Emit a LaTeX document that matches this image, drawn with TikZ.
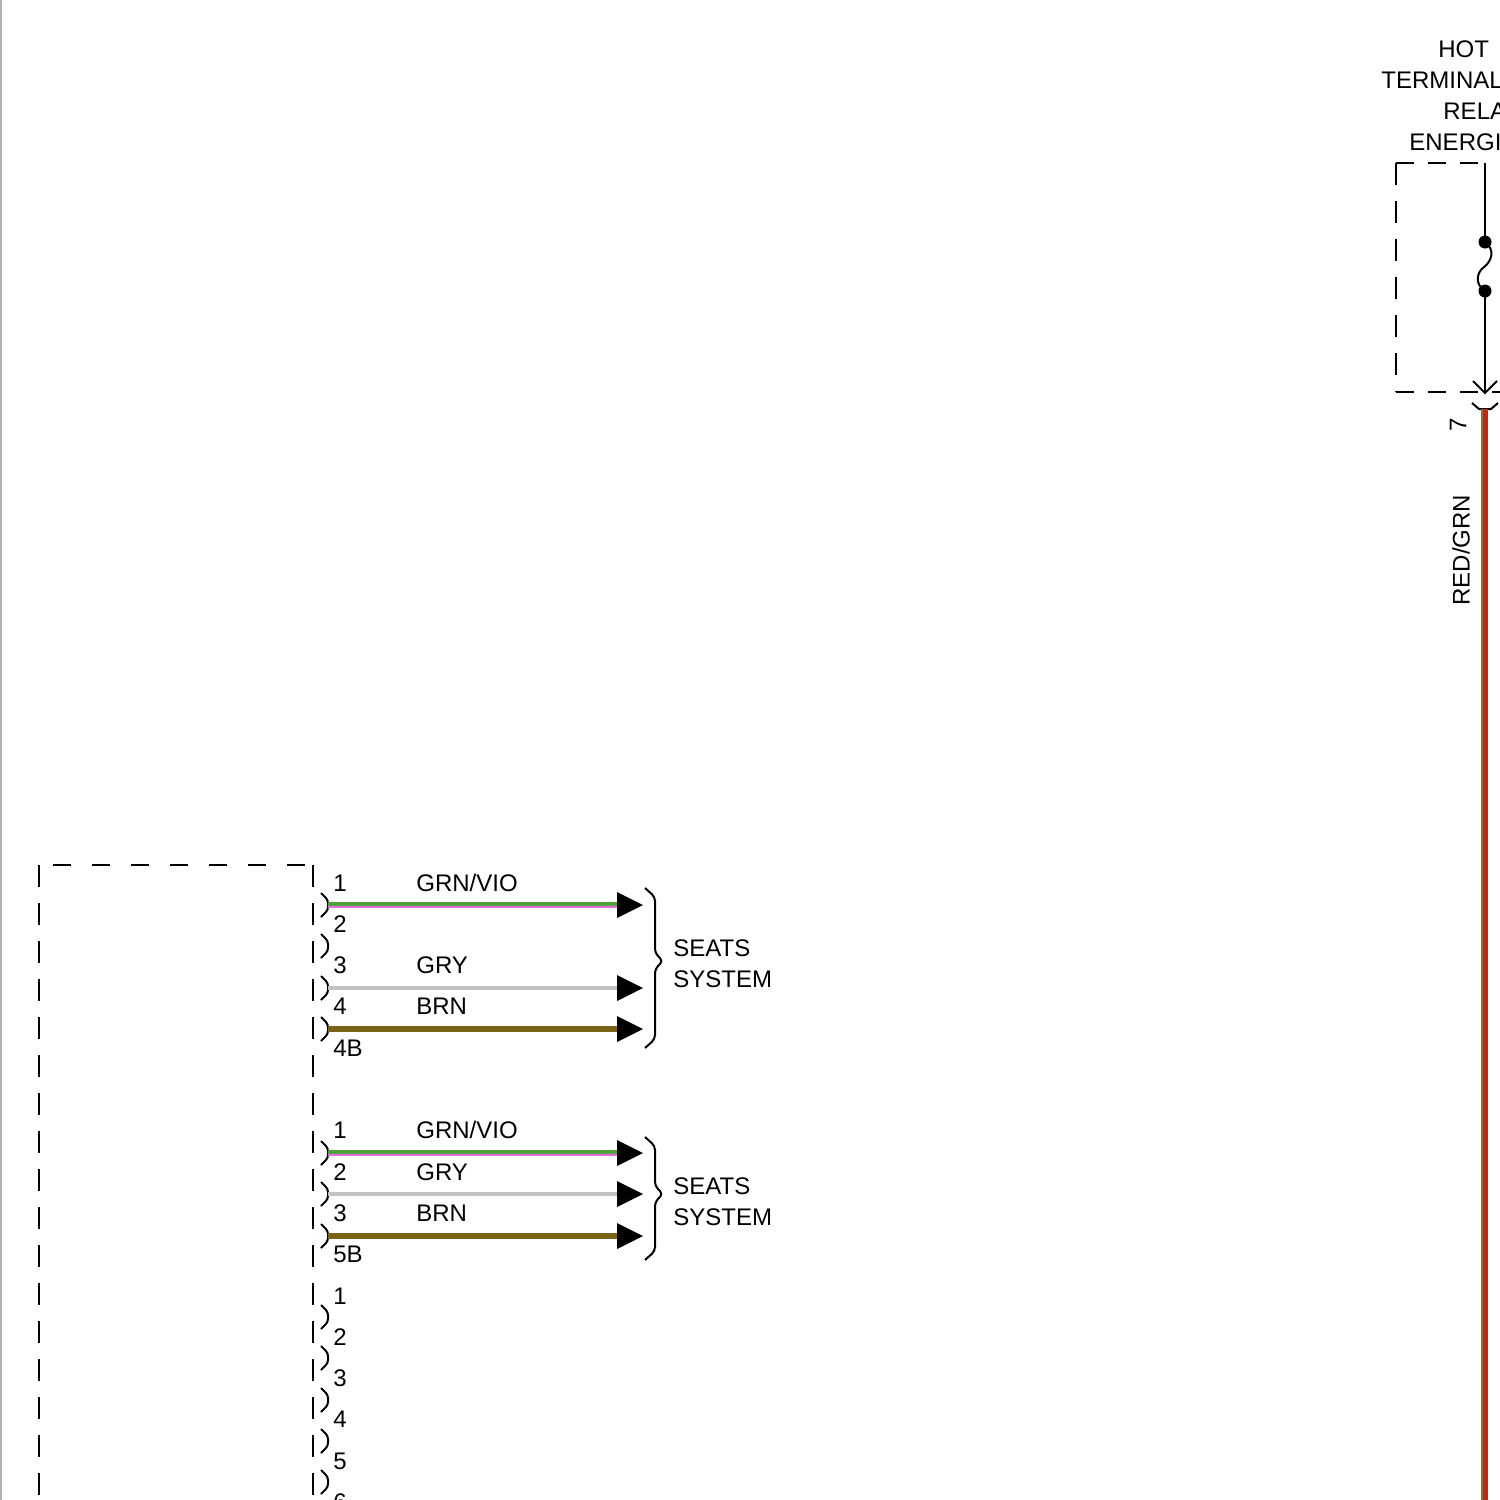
\documentclass[tikz,border=0pt]{standalone}
\usepackage{fontspec}
\setmainfont{Liberation Sans}
\definecolor{wgrn}{RGB}{80,160,60}
\definecolor{wvio}{RGB}{230,110,220}
\definecolor{wgry}{RGB}{195,195,195}
\definecolor{wbrn}{RGB}{120,100,20}
\definecolor{wred}{RGB}{205,35,20}
\definecolor{wredstripe}{RGB}{140,115,40}
\definecolor{edgegray}{RGB}{175,175,175}
\begin{document}
\begin{tikzpicture}[x=0.5pt,y=-0.5pt,
  font=\fontsize{12}{15.5}\selectfont,
  lbl/.style={inner sep=0pt, anchor=base west},
  pinlbl/.style={inner sep=0pt, anchor=base},
  dashv/.style={line width=1.2pt, dash pattern=on 11pt off 8pt},
  dashh/.style={line width=1.2pt, dash pattern=on 9pt off 10.5pt, dash phase=12.5pt},
  dashs/.style={line width=1.2pt, dash pattern=on 9pt off 7pt},
  brk/.style={line width=1pt, rounded corners=1.5pt},
  wireline/.style={line width=1pt},
  tri/.style={fill=black}]
\useasboundingbox (0,0) rectangle (1500,1500);
\clip (0,0) rectangle (1500,1500);
% left page edge
\draw[edgegray, line width=1pt] (1,0) -- (1,1500);

% ---------- top right: hot terminal ----------
\node[lbl] (t1) at (1438,57) {HOT};
\node[lbl] (t2) at (1381,88) {TERMINAL};
\node[lbl] (t3) at (1443,119) {RELA};
\node[lbl] (t4) at (1409,150) {ENERGI};
\draw[dashs] (1396,163) -- (1485,163);
\draw[dashv] (1396,163) -- (1396,392);
\draw[dashs] (1396,392) -- (1500,392);
\coordinate (fa) at (1485,163);
\coordinate (fd1) at (1485,242);
\coordinate (fd2) at (1485,291);
\coordinate (fv) at (1485,393);
\draw[wireline] (fa) -- (fd1);
\draw[wireline] (fd1) .. controls (1496,250) and (1491,262) .. (1484,267)
                      .. controls (1477,272) and (1474,284) .. (fd2);
\draw[wireline] (fd2) -- (fv);
\fill (fd1) circle (6.5);
\fill (fd2) circle (6.5);
\draw[wireline] (1473,381) -- (fv) -- (1497,381);
\draw[wireline] (1472,403) -- (1479,409) -- (1491,409) -- (1498,403);
\coordinate (rw1) at (1485,409);
\coordinate (rw2) at (1485,1500);
\draw[wred, line width=2.6pt] (rw1) -- (rw2);
\draw[wredstripe, line width=0.6pt] ([xshift=-1.5pt]rw1) -- ([xshift=-1.5pt]rw2);
\node[inner sep=0pt, rotate=90] (p7) at (1458,425) {7};
\node[inner sep=0pt, rotate=90] (rg) at (1461,550) {RED/GRN};

% ---------- left module ----------
\draw[dashh] (39,865) -- (313,865);
\draw[dashv] (39,865) -- (39,1500);
\draw[dashv] (313,865) -- (313,1500);

% connector brackets
\foreach \y in {905,946,988,1029,1153,1194,1236,1317,1358,1400,1441,1482}
  \draw[brk] (321,\y-12) -- (328,\y-5) -- (328,\y+5) -- (321,\y+12);

% pin labels
\foreach \y/\t in {883/1,924/2,965/3,1006/4,1130/1,1172/2,1213/3,1296/1,1337/2,1378/3,1419/4,1461/5,1502/6}
  \node[pinlbl] at (340,\y+8.5) {\t};
\node[lbl] (c4b) at (333,1056.5) {4B};
\node[lbl] (c5b) at (333,1262.5) {5B};

% wires group 4B
\coordinate (s41) at (328,905);  \coordinate (e41) at (618,905);
\coordinate (s43) at (328,988);  \coordinate (e43) at (618,988);
\coordinate (s44) at (328,1029); \coordinate (e44) at (618,1029);
\draw[wgrn, line width=1.7pt] ([yshift=0.6pt]s41) -- ([yshift=0.6pt]e41);
\draw[wvio, line width=1pt] ([yshift=-0.9pt]s41) -- ([yshift=-0.9pt]e41);
\draw[wgry, line width=2.4pt] (s43) -- (e43);
\draw[wbrn, line width=2.8pt] (s44) -- (e44);
\foreach \y in {905,988,1029}
  \fill[tri] (617,\y-13) -- (643,\y) -- (617,\y+13) -- cycle;
\node[lbl] (l41) at (416,891.5) {GRN/VIO};
\node[lbl] (l43) at (416,973.5) {GRY};
\node[lbl] (l44) at (416,1014.5) {BRN};
\draw[line width=1pt, rounded corners=2pt]
  (645,888) -- (655,897) -- (655,953) -- (663,961) -- (655,969) -- (655,1039) -- (645,1048);
\node[lbl] (seat1) at (673,956.5) {SEATS};
\node[lbl] (seat1b) at (673,987.5) {SYSTEM};

% wires group 5B
\coordinate (s51) at (328,1153); \coordinate (e51) at (618,1153);
\coordinate (s52) at (328,1194); \coordinate (e52) at (618,1194);
\coordinate (s53) at (328,1236); \coordinate (e53) at (618,1236);
\draw[wgrn, line width=1.7pt] ([yshift=0.6pt]s51) -- ([yshift=0.6pt]e51);
\draw[wvio, line width=1pt] ([yshift=-0.9pt]s51) -- ([yshift=-0.9pt]e51);
\draw[wgry, line width=2.4pt] (s52) -- (e52);
\draw[wbrn, line width=2.8pt] (s53) -- (e53);
\foreach \y in {1153,1194,1236}
  \fill[tri] (617,\y-13) -- (643,\y) -- (617,\y+13) -- cycle;
\node[lbl] (l51) at (416,1138.5) {GRN/VIO};
\node[lbl] (l52) at (416,1180.5) {GRY};
\node[lbl] (l53) at (416,1221.5) {BRN};
\draw[line width=1pt, rounded corners=2pt]
  (645,1137) -- (655,1146) -- (655,1186) -- (663,1194) -- (655,1202) -- (655,1251) -- (645,1260);
\node[lbl] (seat2) at (673,1194.5) {SEATS};
\node[lbl] (seat2b) at (673,1225.5) {SYSTEM};
\end{tikzpicture}
\end{document}
